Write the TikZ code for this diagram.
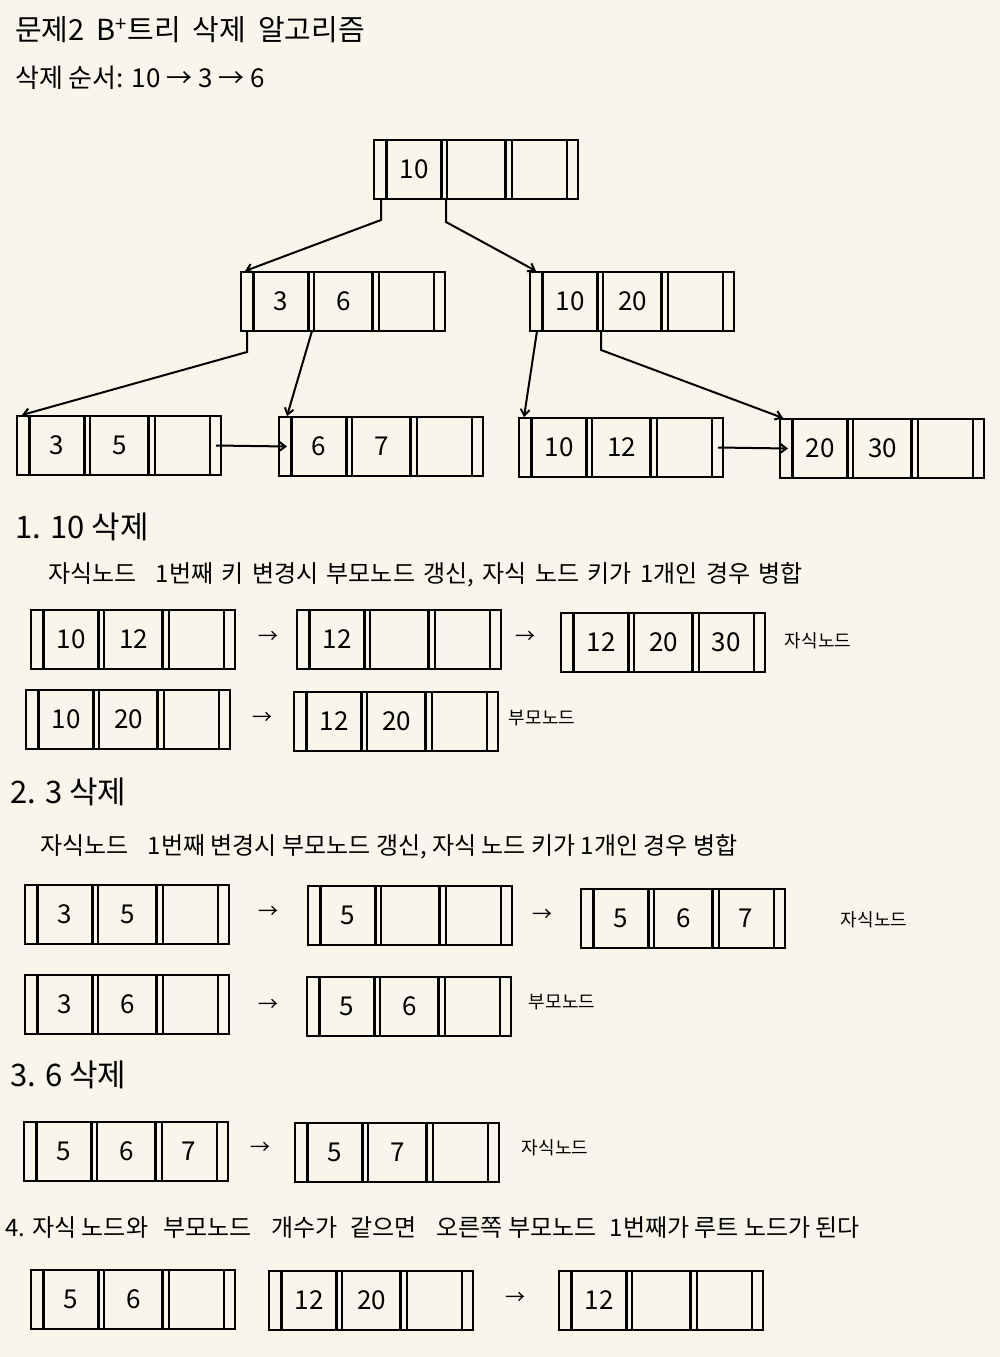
\documentclass[tikz,border=0pt]{standalone}
\usepackage{fontspec}
\setmainfont{Noto Sans CJK KR}
\usetikzlibrary{arrows.meta,calc}
\definecolor{paper}{HTML}{F8F6EB}
\tikzset{
 bbox/.style={draw, line width=2.8pt, minimum width=204pt, minimum height=59pt, inner sep=0pt, outer sep=0pt, anchor=north west},
 divider/.style={line width=2.3pt},
 keytxt/.style={font=\fontsize{26}{26}\selectfont, inner sep=0pt},
 link/.style={line width=2pt, -{Straight Barb[length=6pt,width=9pt]}},
 head/.style={anchor=west, inner sep=0pt, font=\fontsize{29}{29}\selectfont},
 subline/.style={anchor=west, inner sep=0pt, font=\fontsize{24}{24}\selectfont},
 lbl/.style={inner sep=0pt, font=\fontsize{18}{18}\selectfont},
 tarr/.style={inner sep=0pt, font=\fontsize{20}{20}\selectfont},
}
\newcommand\bpnode[6]{%
 \node[bbox] (#1) at (#2,#3) {};
 \begin{scope}[shift={(#1.north west)}]
  \foreach \xx in {12.4,67.4,73,131.4,138,193} \draw[divider] (\xx,0) -- (\xx,59);
  \node[keytxt] (#1-1) at (40,29.5) {#4};
  \node[keytxt] (#1-2) at (102.7,29.5) {#5};
  \node[keytxt] (#1-3) at (165.2,29.5) {#6};
 \end{scope}}
\begin{document}
\begin{tikzpicture}[x=1pt,y=-1pt]
\fill[paper] (0,0) rectangle (1000,1357);
\useasboundingbox (0,0) rectangle (1000,1357);

% headings
\node[head] (title) at (15,30) {문제2\hspace{12pt}B\textsuperscript{+}트리\hspace{12pt}삭제\hspace{12pt}알고리즘};
\node[head,font=\fontsize{26}{26}\selectfont] (order) at (15,78) {삭제 순서: 10 → 3 → 6};

% tree
\bpnode{root}{374}{140}{10}{}{}
\bpnode{p1}{241}{272}{3}{6}{}
\bpnode{p2}{530}{272}{10}{20}{}
\bpnode{c1}{17}{416}{3}{5}{}
\bpnode{c2}{279}{417}{6}{7}{}
\bpnode{c3}{519}{418}{10}{12}{}
\bpnode{c4}{780}{419}{20}{30}{}

\draw[link] ([xshift=7pt]root.south west) -- ++(0,21) -- ([xshift=4pt,yshift=1pt]p1.north west);
\draw[link] ([xshift=72pt]root.south west) -- ++(0,23) -- ([xshift=6pt,yshift=1pt]p2.north west);
\draw[link] ([xshift=6pt]p1.south west) -- ++(0,21) -- ([xshift=5pt,yshift=1pt]c1.north west);
\draw[link] ([xshift=71pt]p1.south west) -- ([xshift=8pt,yshift=1pt]c2.north west);
\draw[link] ([xshift=7pt]p2.south west) -- ([xshift=5pt,yshift=1pt]c3.north west);
\draw[link] ([xshift=71pt]p2.south west) -- ++(0,19) -- ([xshift=3pt,yshift=1pt]c4.north west);
\draw[link] ([xshift=-5pt]c1.east) -- ([xshift=8pt]c2.west);
\draw[link] ([xshift=-5pt]c3.east) -- ([xshift=8pt]c4.west);

% section 1
\node[head,font=\fontsize{31}{31}\selectfont] (h1) at (15,527) {1. 10 삭제};
\node[subline] (t1) at (48,575) {자식노드\hspace{14pt} 1번째\hspace{3pt} 키\hspace{3pt} 변경시\hspace{3pt} 부모노드\hspace{3pt} 갱신,\hspace{3pt} 자식\hspace{3pt} 노드\hspace{3pt} 키가\hspace{3pt} 1개인\hspace{3pt} 경우\hspace{3pt} 병합};
\bpnode{s1a}{31}{610}{10}{12}{}
\bpnode{s1b}{297}{610}{12}{}{}
\bpnode{s1c}{561}{613}{12}{20}{30}
\bpnode{s1d}{26}{690}{10}{20}{}
\bpnode{s1e}{294}{692}{12}{20}{}
\node[tarr] (a11) at (268,637) {→};
\node[tarr] (a12) at (525,637) {→};
\node[tarr] (a13) at (262,718) {→};
\node[lbl] (l11) at (818,641) {자식노드};
\node[lbl] (l12) at (542,718) {부모노드};

% section 2
\node[head,font=\fontsize{31}{31}\selectfont] (h2) at (10,792) {2. 3 삭제};
\node[subline] (t2) at (40,847) {자식노드\hspace{14pt} 1번째 변경시 부모노드 갱신, 자식 노드 키가 1개인 경우 병합};
\bpnode{s2a}{25}{885}{3}{5}{}
\bpnode{s2b}{308}{886}{5}{}{}
\bpnode{s2c}{581}{889}{5}{6}{7}
\bpnode{s2d}{25}{975}{3}{6}{}
\bpnode{s2e}{307}{977}{5}{6}{}
\node[tarr] (a21) at (268,912) {→};
\node[tarr] (a22) at (542,915) {→};
\node[tarr] (a23) at (268,1005) {→};
\node[lbl] (l21) at (874,920) {자식노드};
\node[lbl] (l22) at (562,1002) {부모노드};

% section 3
\node[head,font=\fontsize{31}{31}\selectfont] (h3) at (10,1075) {3. 6 삭제};
\bpnode{s3a}{24}{1122}{5}{6}{7}
\bpnode{s3b}{295}{1123}{5}{7}{}
\node[tarr] (a31) at (260,1148) {→};
\node[lbl] (l31) at (555,1148) {자식노드};

% section 4
\node[head,font=\fontsize{24}{24}\selectfont] (h4) at (5,1228) {4. 자식 노드와\hspace{10pt} 부모노드\hspace{14pt} 개수가\hspace{8pt} 같으면\hspace{14pt} 오른쪽 부모노드\hspace{8pt} 1번째가 루트 노드가 된다};
\bpnode{s4a}{31}{1270}{5}{6}{}
\bpnode{s4b}{269}{1271}{12}{20}{}
\bpnode{s4c}{559}{1271}{12}{}{}
\node[tarr] (a41) at (515,1298) {→};
\end{tikzpicture}
\end{document}
